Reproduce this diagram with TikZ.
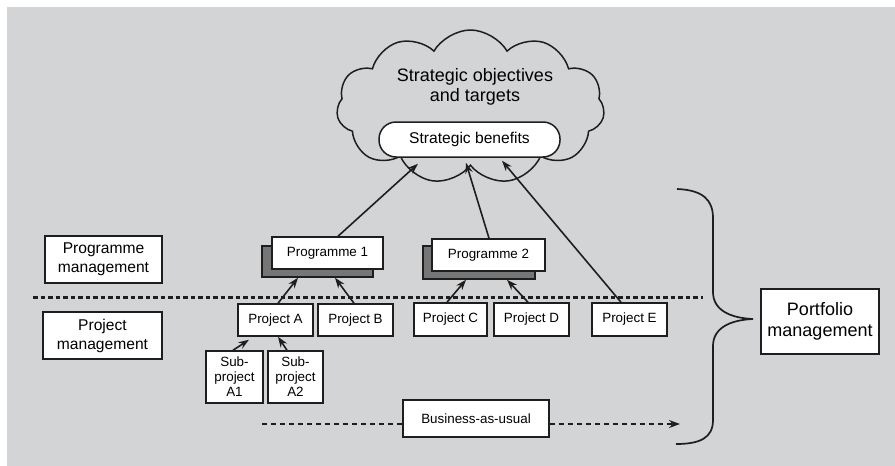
\documentclass[tikz,border=0pt]{standalone}
\usepackage{fontspec}
\setmainfont{Liberation Sans}
\usetikzlibrary{shapes.symbols,arrows.meta}
\definecolor{bg}{RGB}{211,212,214}
\definecolor{ink}{RGB}{30,30,30}
\definecolor{shade}{RGB}{118,118,118}
\newcommand\myfs[2]{\fontsize{#1}{#2}\selectfont}
\begin{document}
\begin{tikzpicture}[x=1pt,y=-1pt,
  box/.style={draw=ink,fill=white,line width=1.5pt,inner sep=0pt,align=center,font=\myfs{13.4}{15}},
  shadowbox/.style={draw=ink,fill=shade,line width=1.5pt,inner sep=0pt},
  arr/.style={draw=ink,line width=1.6pt,-{Stealth[length=10.5pt,width=7.5pt]}},
]
\useasboundingbox (0,0) rectangle (895,466);
\fill[white] (0,0) rectangle (895,466);
\fill[bg] (7,7) rectangle (895,466);

% cloud
\node[cloud,cloud puffs=11,cloud puff arc=120,aspect=1.75,draw=ink,line width=1.5pt,fill=bg,
  minimum width=268pt,minimum height=154pt,inner sep=0pt] (cloud) at (470.5,107) {};
\node[align=center,font=\myfs{18}{20}] (obj) at (475,87) {Strategic objectives\\and targets};
\node[draw=ink,fill=white,line width=1.5pt,rounded corners=17pt,minimum width=181pt,minimum height=35pt,
  inner sep=0pt,font=\myfs{15.6}{17}] (benefits) at (469.5,139.5) {Strategic benefits};

% side labels
\node[box,minimum width=117pt,minimum height=47pt,font=\myfs{15.6}{19}] (progmgmt) at (103.5,259.5) {Programme\\management};
\node[box,minimum width=119pt,minimum height=47pt,font=\myfs{15.6}{19}] (projmgmt) at (102.5,335.5) {Project\\management};

% separator
\draw[ink,line width=3pt,dash pattern=on 4.5pt off 3pt] (33,297) coordinate (sepL) -- (703,297) coordinate (sepR);

% programmes
\node[shadowbox,minimum width=111pt,minimum height=31pt] (prog1s) at (317.5,261.5) {};
\node[box,minimum width=111pt,minimum height=32pt] (prog1) at (327.5,253) {Programme 1};
\node[shadowbox,minimum width=112pt,minimum height=33pt] (prog2s) at (479,262.5) {};
\node[box,minimum width=113pt,minimum height=32pt] (prog2) at (488.5,255) {Programme 2};

% projects
\node[box,minimum width=75pt,minimum height=32pt] (projA) at (275.5,320) {Project A};
\node[box,minimum width=75pt,minimum height=32pt] (projB) at (355.5,320) {Project B};
\node[box,minimum width=73pt,minimum height=33pt] (projC) at (450.5,319.5) {Project C};
\node[box,minimum width=75pt,minimum height=33pt] (projD) at (531.5,319.5) {Project D};
\node[box,minimum width=75pt,minimum height=33pt] (projE) at (629.5,319.5) {Project E};
\node[box,minimum width=57pt,minimum height=52pt] (subA1) at (234.5,377) {Sub-\\project\\A1};
\node[box,minimum width=55pt,minimum height=52pt] (subA2) at (295.5,377) {Sub-\\project\\A2};

% business as usual
\node[box,minimum width=146pt,minimum height=37pt] (bau) at (476,418.5) {Business-as-usual};
\coordinate (bauL) at (262,424);
\coordinate (bauR) at (680,424);
\draw[ink,line width=1.6pt,dash pattern=on 5pt off 4pt] (bauL) -- (bauL -| bau.west);
\draw[ink,line width=1.6pt,dash pattern=on 5pt off 4pt,-{Stealth[length=11pt,width=8pt]}] (bauR -| bau.east) -- (bauR);

% portfolio
\node[box,minimum width=118pt,minimum height=65pt,font=\myfs{18}{21}] (portfolio) at (820,321.5) {Portfolio\\management};

% brace
\draw[ink,line width=1.7pt] (677,189) .. controls (703,190) and (713,200) .. (713,218) -- (713,292)
  .. controls (713,310) and (730,318) .. (753,319)
  .. controls (730,320) and (713,328) .. (713,346) -- (713,420)
  .. controls (713,438) and (700,444) .. (676,444);

% arrows
\draw[arr] ([xshift=2.5pt]projA.north) -- ([xshift=-19.5pt]prog1s.south);
\draw[arr] ([xshift=-1.5pt]projB.north) -- ([xshift=17.5pt]prog1s.south);
\draw[arr] ([xshift=-3.5pt]projC.north) -- ([xshift=-13pt]prog2s.south);
\draw[arr] ([xshift=-3.5pt]projD.north) -- ([xshift=28pt]prog2s.south);
\draw[arr] ([xshift=-1.5pt]subA1.north) -- ([xshift=-26.5pt,yshift=-3pt]projA.south);
\draw[arr] ([xshift=-8.5pt]subA2.north) -- ([xshift=2.5pt]projA.south);
\draw[arr] ([xshift=10.5pt]prog1.north) -- ([xshift=-51.5pt,yshift=-6pt]benefits.south);
\draw[arr] ([xshift=0.5pt]prog2.north) -- ([xshift=-3.5pt,yshift=-5pt]benefits.south);
\draw[arr] ([xshift=-8.5pt]projE.north) -- ([xshift=32.5pt,yshift=-3pt]benefits.south);
\end{tikzpicture}
\end{document}
